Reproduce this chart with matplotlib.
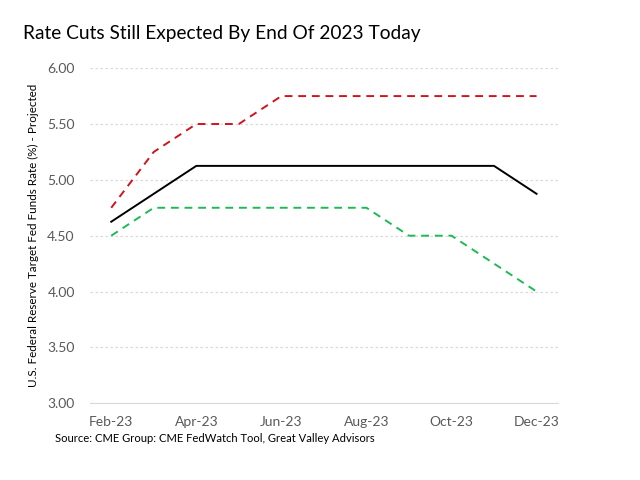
import matplotlib.pyplot as plt

plt.rcParams['font.family'] = ['Lato', 'DejaVu Sans']

months = ["Feb-23", "Mar-23", "Apr-23", "May-23", "Jun-23", "Jul-23",
          "Aug-23", "Sep-23", "Oct-23", "Nov-23", "Dec-23"]
high = [4.75, 5.25, 5.50, 5.50, 5.75, 5.75, 5.75, 5.75, 5.75, 5.75, 5.75]
mid = [4.625, 4.875, 5.125, 5.125, 5.125, 5.125, 5.125, 5.125, 5.125, 5.125, 4.875]
low = [4.50, 4.75, 4.75, 4.75, 4.75, 4.75, 4.75, 4.50, 4.50, 4.25, 4.00]
yticks = [3.0, 3.5, 4.0, 4.5, 5.0, 5.5, 6.0]

fig = plt.figure(figsize=(6.4, 4.8), dpi=100)
ax = fig.add_axes([0.1406, 0.160, 0.731, 0.698])

x = range(len(months))
ax.plot(x, high, color="#d0141c", lw=1.4, linestyle=(0, (4, 3)))
ax.plot(x, mid, color="black", lw=1.4)
ax.plot(x, low, color="#1db954", lw=1.4, linestyle=(0, (4, 3)))

ax.set_xlim(-0.5, len(months) - 0.5)
ax.set_ylim(3.0, 6.0)
ax.set_xticks(list(x)[::2])
ax.set_xticklabels(months[::2])
ax.set_yticks(yticks)
ax.set_yticklabels([f"{v:.2f}" for v in yticks])
ax.grid(axis="y", color="#d9d9d9", linestyle=(0, (2, 2)), lw=0.9)
ax.set_axisbelow(True)
for side in ["left", "right", "top"]:
    ax.spines[side].set_visible(False)
ax.spines["bottom"].set_color("#d9d9d9")
ax.tick_params(length=0, labelsize=10, colors="#595959", pad=9)
ax.tick_params(axis="y", pad=11)
ax.set_ylabel("U.S. Federal Reserve Target Fed Funds Rate (%) - Projected",
              fontsize=8.4, labelpad=6)

fig.text(0.036, 0.918, "Rate Cuts Still Expected By End Of 2023 Today", fontsize=13.8)
fig.text(0.086, 0.08, "Source: CME Group: CME FedWatch Tool, Great Valley Advisors",
         fontsize=8.1)

fig.savefig("out.png", dpi=100)
